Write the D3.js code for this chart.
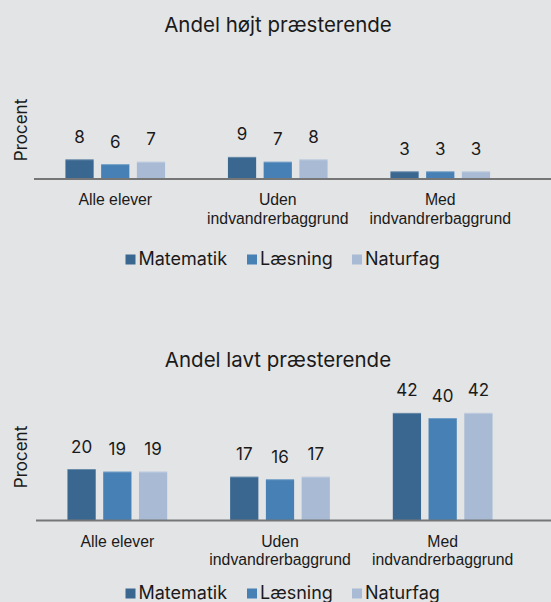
<!DOCTYPE html>
<html><head><meta charset="utf-8">
<script src="https://cdn.jsdelivr.net/npm/d3@7"></script>
<style>
html,body{margin:0;padding:0;background:#e3e4e6;}
svg{display:block;font-family:Inter,"Noto Sans",sans-serif;}
</style></head>
<body><svg id="c" width="551" height="602"></svg>
<script>
const categories = [["Alle elever"], ["Uden","indvandrerbaggrund"], ["Med","indvandrerbaggrund"]];
const series = ["Matematik", "Læsning", "Naturfag"];
const colors = ["#3a6790", "#4680b4", "#a9bbd4"];
const highValues = [[8,6,7],[9,7,8],[3,3,3]];
const lowValues = [[20,19,19],[17,16,17],[42,40,42]];
const titles = ["Andel højt præsterende", "Andel lavt præsterende"];
const yLabel = "Procent";

const svg = d3.select("#c");

function panel(cfg){
  const g = svg.append("g");
  g.append("text").attr("x", 278).attr("y", cfg.titleY).attr("text-anchor","middle")
    .attr("font-size", 20.5).attr("fill","#1a1a1a").text(cfg.title);
  const x0 = d3.scaleBand().domain(d3.range(categories.length)).range([cfg.x0, cfg.x1]).paddingInner(0).paddingOuter(0);
  const x1 = d3.scaleBand().domain(series).range([0, x0.bandwidth()]).paddingInner(0.21).paddingOuter(0.88);
  const y = d3.scaleLinear().domain([0, cfg.ymax]).range([cfg.base, cfg.base - cfg.ymax*cfg.ppu]);
  const groups = g.selectAll("g.grp").data(cfg.values).join("g").attr("transform",(d,i)=>`translate(${x0(i)},0)`);
  groups.selectAll("rect").data(d=>d.map((v,j)=>({v,s:series[j],j}))).join("rect")
    .attr("x", d=>x1(d.s)).attr("width", x1.bandwidth())
    .attr("y", d=>y(d.v)).attr("height", d=>cfg.base - y(d.v))
    .attr("fill", d=>colors[d.j]);
  groups.selectAll("rect.hl").data(d=>d.map((v,j)=>({v,s:series[j],j}))).join("rect").attr("class","hl")
    .attr("x", d=>x1(d.s)).attr("width", x1.bandwidth())
    .attr("y", d=>y(d.v)).attr("height", 1).attr("fill","#ffffff").attr("opacity",0.25);
  groups.selectAll("text.val").data(d=>d.map((v,j)=>({v,s:series[j],j}))).join("text").attr("class","val")
    .attr("x", d=>x1(d.s)+x1.bandwidth()/2).attr("y", d=>y(d.v)-16.5)
    .attr("text-anchor","middle").attr("font-size",17).attr("fill","#1a1a1a").text(d=>d.v);
  // axis
  const axis = d3.axisBottom(x0).tickSize(0).tickFormat("");
  const ag = g.append("g").attr("transform",`translate(0,${cfg.base})`).call(axis);
  ag.select(".domain").remove();
  g.append("line").attr("x1", cfg.x0).attr("x2", 551).attr("y1", cfg.base+0.5).attr("y2", cfg.base+0.5)
    .attr("stroke","#767676").attr("stroke-width",2);
  ag.selectAll(".tick").each(function(d){
    const t = d3.select(this).append("text").attr("text-anchor","middle").attr("font-size",15.8).attr("fill","#1a1a1a");
    categories[d].forEach((line,k)=>{
      t.append("tspan").attr("x",0).attr("y", 26.5 + k*18.5).text(line);
    });
  });
  g.append("text").attr("transform",`translate(27,${cfg.ylabY}) rotate(-90)`).attr("text-anchor","middle")
    .attr("font-size",17).attr("fill","#1a1a1a").text(yLabel);
  // legend
  const lg = g.append("g").attr("transform",`translate(0,${cfg.legY})`);
  const lx = [125.5, 247, 352];
  series.forEach((s,i)=>{
    lg.append("rect").attr("x",lx[i]).attr("y",-10.5).attr("width",10).attr("height",10).attr("fill",colors[i]);
    lg.append("text").attr("x",lx[i]+13).attr("y",0).attr("font-size",18).attr("fill","#1a1a1a").text(s);
  });
}

panel({title:titles[0], titleY:32.3, values:highValues, x0:34, x1:521.5, base:178.5, ymax:10, ppu:2.4, ylabY:130, legY:265});
panel({title:titles[1], titleY:366.7, values:lowValues, x0:36, x1:524, base:520, ymax:50, ppu:2.55, ylabY:457, legY:599});
</script></body></html>
